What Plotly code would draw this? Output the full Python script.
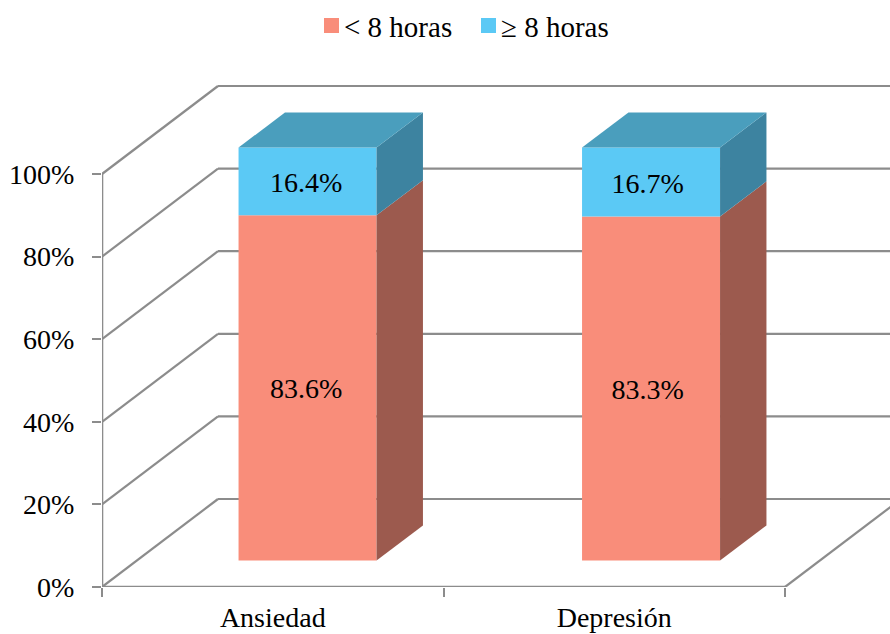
import plotly.graph_objects as go

categories = ["Ansiedad", "Depresión"]
under_8 = [83.6, 83.3]
over_8 = [16.4, 16.7]
y_ticks = [0, 20, 40, 60, 80, 100]
y_tick_labels = ["0%", "20%", "40%", "60%", "80%", "100%"]

FONT = "Liberation Serif"
GREY = "#8c8c8c"
SALMON = "#f98d7a"
SKY = "#5bc9f5"

WIDTH, HEIGHT = 890, 634
LEFT, BOTTOM = 102, 47
PX_PER_CAT = 341.5
PX_PER_PCT = 4.13
PLOT_W = WIDTH - LEFT
PLOT_H = HEIGHT - BOTTOM

# Oblique projection: how far the back of the box sits from the front, in axis units
DEPTH_X = 116 / PX_PER_CAT
DEPTH_Y = 88 / PX_PER_PCT
BAR_FRONT = 0.30
BAR_BACK = 0.70
BAR_WIDTH = 138 / PX_PER_CAT
BAR_SPACING = 343.5 / PX_PER_CAT

n_cat = len(categories)
lift = BAR_FRONT * DEPTH_Y
centers = [0.5 + BAR_FRONT * DEPTH_X + i * BAR_SPACING for i in range(n_cat)]

fig = go.Figure()


def seg(x0, y0, x1, y1, width=2.2):
    return dict(type="line", xref="x", yref="y", x0=x0, y0=y0, x1=x1, y1=y1,
                layer="below", line=dict(color=GREY, width=width))


shapes = []
# Gridlines running along the left wall and the back wall
for v in y_ticks:
    shapes.append(seg(0, v, DEPTH_X, v + DEPTH_Y))
    shapes.append(seg(DEPTH_X, v + DEPTH_Y, n_cat + DEPTH_X, v + DEPTH_Y))
# Axis lines and the right edge of the floor
shapes.append(seg(0, 0, 0, 100, 2.6))
shapes.append(seg(0, 0, n_cat, 0, 2.6))
shapes.append(seg(n_cat, 0, n_cat + DEPTH_X, DEPTH_Y))


def add_face(xs, ys, color):
    fig.add_trace(go.Scatter(x=xs, y=ys, mode="lines", fill="toself", fillcolor=color,
                             line=dict(width=0), hoverinfo="skip", showlegend=False))


def add_front(values, bases, color, name):
    fig.add_trace(go.Bar(
        x=centers, y=values, base=bases, width=BAR_WIDTH, name=name,
        marker=dict(color=color, line=dict(width=0)), showlegend=False,
    ))


add_front(under_8, [lift] * n_cat, SALMON, "< 8 horas")
add_front(over_8, [lift + v for v in under_8], SKY, "≥ 8 horas")

# Side and top faces of every bar
side_dx = (BAR_BACK - BAR_FRONT) * DEPTH_X
side_dy = (BAR_BACK - BAR_FRONT) * DEPTH_Y
for c, low, high in zip(centers, under_8, over_8):
    right = c + BAR_WIDTH / 2
    left = c - BAR_WIDTH / 2
    y0, y1, y2 = lift, lift + low, lift + low + high
    add_face([right, right + side_dx, right + side_dx, right],
             [y0, y0 + side_dy, y1 + side_dy, y1], "#9c5a4e")
    add_face([right, right + side_dx, right + side_dx, right],
             [y1, y1 + side_dy, y2 + side_dy, y2], "#3d83a0")
    add_face([left, right, right + side_dx, left + side_dx],
             [y2, y2, y2 + side_dy, y2 + side_dy], "#4a9ebd")

# Value labels on the front faces, nudged slightly down and left of centre
nudge_x = 1.5 / PX_PER_CAT
label_x = [0.5 + BAR_FRONT * DEPTH_X + i - nudge_x for i in range(n_cat)]
for values, mids in (
    (under_8, [lift + v / 2 - 3.5 / PX_PER_PCT for v in under_8]),
    (over_8, [lift + a + b / 2 - 4 / PX_PER_PCT for a, b in zip(under_8, over_8)]),
):
    fig.add_trace(go.Scatter(
        x=label_x, y=mids, mode="text", text=[f"{v:.1f}%" for v in values],
        textposition="middle center", hoverinfo="skip", showlegend=False,
        textfont=dict(family=FONT, size=28, color="black"),
    ))

# Legend keys and labels placed above the plot
annotations = []
legend_items = [("< 8 horas", SALMON, 324), ("≥ 8 horas", SKY, 481)]
for label, color, px in legend_items:
    shapes.append(dict(type="rect", xref="paper", yref="paper",
                       x0=(px - LEFT) / PLOT_W, x1=(px + 15 - LEFT) / PLOT_W,
                       y0=1 - 33 / PLOT_H, y1=1 - 18 / PLOT_H,
                       fillcolor=color, line=dict(width=0)))
    annotations.append(dict(text=label, xref="paper", yref="paper", showarrow=False,
                            x=(px + 18 - LEFT) / PLOT_W, y=1 - 27 / PLOT_H,
                            xanchor="left", yanchor="middle",
                            font=dict(family=FONT, size=29, color="black")))

fig.update_layout(
    width=WIDTH, height=HEIGHT, autosize=False,
    margin=dict(l=LEFT, r=0, t=0, b=BOTTOM, pad=0),
    paper_bgcolor="white", plot_bgcolor="white",
    barmode="overlay", showlegend=False,
    font=dict(family=FONT, size=28, color="black"),
    shapes=shapes, annotations=annotations,
    xaxis=dict(
        automargin=False,
        range=[0, PLOT_W / PX_PER_CAT], showgrid=False, zeroline=False, showline=False,
        tickmode="array", tickvals=[i + 0.5 for i in range(n_cat)], ticktext=categories,
        ticks="", ticklabelstandoff=11, tickfont=dict(family=FONT, size=28, color="black"),
        minor=dict(tickmode="array", tickvals=list(range(n_cat + 1)), ticks="outside",
                   ticklen=9, tickwidth=2, tickcolor=GREY, showgrid=False),
    ),
    yaxis=dict(
        automargin=False,
        range=[0, PLOT_H / PX_PER_PCT], showgrid=False, zeroline=False, showline=False,
        tickmode="array", tickvals=y_ticks, ticktext=y_tick_labels,
        ticks="outside", ticklen=9, tickwidth=2, tickcolor=GREY,
        ticklabelstandoff=12,
        tickfont=dict(family=FONT, size=28, color="black"),
    ),
)

fig.write_html("out.html", config=dict(displayModeBar=False))
